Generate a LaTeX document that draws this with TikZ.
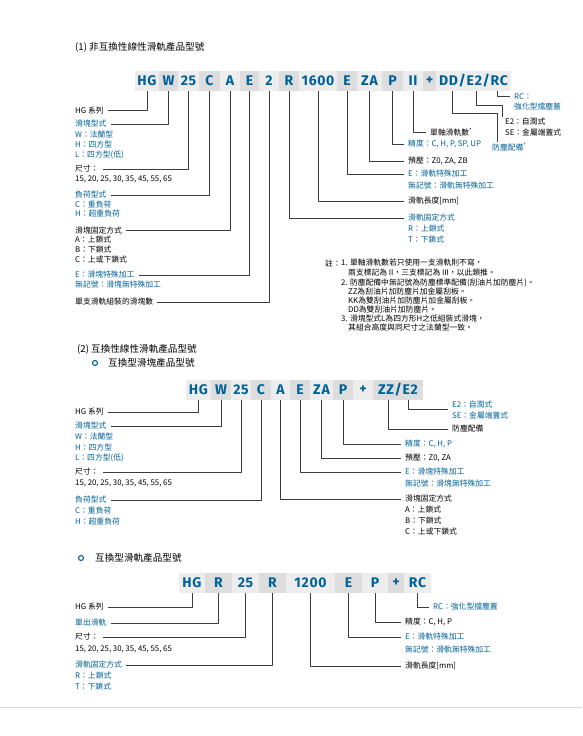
\documentclass[tikz,border=0pt]{standalone}
\usepackage{fontspec}
\setmainfont{Noto Sans CJK TC}
\newfontfamily\codefont{Fira Sans}[LetterSpace=5]
\definecolor{hiblue}{RGB}{0,98,152}
\definecolor{boxlt}{RGB}{237,237,237}
\definecolor{boxdk}{RGB}{221,221,221}
\definecolor{linegray}{RGB}{60,60,60}
\tikzset{
  cell/.style={minimum height=20pt, inner sep=0pt, text=hiblue,
    font=\codefont\bfseries\fontsize{14}{14}\selectfont},
  litecell/.style={cell, fill=boxlt},
  darkcell/.style={cell, fill=boxdk},
  lbl/.style={anchor=west, inner xsep=4pt, inner ysep=1pt,
    font=\fontsize{7.8}{8}\selectfont},
  lbb/.style={lbl, text=hiblue},
  head/.style={anchor=west, inner sep=0pt, font=\fontsize{9.6}{10}\selectfont},
  bullet/.style={circle, draw=hiblue, line width=1.1pt, minimum size=5pt, inner sep=0pt},
  wire/.style={draw=linegray, line width=0.9pt},
}
\begin{document}
\begin{tikzpicture}[x=1pt, y=-1pt, line join=round]
  \fill[white] (0,0) rectangle (582,736);
  \useasboundingbox (0,0) rectangle (582,736);

  % (1) non-interchangeable
  \node[head] (t1) at (75,47) {(1) 非互換性線性滑軌產品型號};

  \node[litecell, minimum width=24pt] (a1) at (147,81) {HG};
  \node[darkcell, minimum width=19pt] (a2) at (168.5,81) {W};
  \node[litecell, minimum width=21pt] (a3) at (188.5,81) {25};
  \node[darkcell, minimum width=21pt] (a4) at (209.5,81) {C};
  \node[litecell, minimum width=20pt] (a5) at (230,81) {A};
  \node[darkcell, minimum width=19pt] (a6) at (249.5,81) {E};
  \node[litecell, minimum width=20pt] (a7) at (269,81) {2};
  \node[darkcell, minimum width=20pt] (a8) at (289,81) {R};
  \node[litecell, minimum width=38pt] (a9) at (318,81) {1600};
  \node[darkcell, minimum width=20pt] (a10) at (347,81) {E};
  \node[litecell, minimum width=25pt] (a11) at (369.5,81) {ZA};
  \node[darkcell, minimum width=21pt] (a12) at (392.5,81) {P};
  \node[litecell, minimum width=20pt] (a13) at (413,81) {II};
  \node[darkcell, minimum width=13pt] (a14) at (429.5,81) {+};
  \node[litecell, minimum width=75pt] (a15) at (473.5,81) {DD/E2/RC};
  \coordinate (ddc) at (452,91);
  \coordinate (e2c) at (476,91);
  \coordinate (rcc) at (497,91);

  \node[lbl] (l1) at (71,110.5) {HG 系列};
  \node[lbb] (l2) at (71,124) {滑塊型式};
  \node[lbb] (l2a) at (71,134.5) {W：法蘭型};
  \node[lbb] (l2b) at (71,145) {H：四方型};
  \node[lbb] (l2c) at (71,155) {L：四方型(低)};
  \node[lbl] (l3) at (71,169) {尺寸：};
  \node[lbl] (l3a) at (71,179) {15, 20, 25, 30, 35, 45, 55, 65};
  \node[lbb] (l4) at (71,195) {負荷型式};
  \node[lbb] (l4a) at (71,204.5) {C：重負荷};
  \node[lbb] (l4b) at (71,214) {H：超重負荷};
  \node[lbl] (l5) at (71,230.5) {滑塊固定方式};
  \node[lbl] (l5a) at (71,240) {A：上鎖式};
  \node[lbl] (l5b) at (71,250) {B：下鎖式};
  \node[lbl] (l5c) at (71,260) {C：上或下鎖式};
  \node[lbb] (l6) at (71,275) {E：滑塊特殊加工};
  \node[lbb] (l6a) at (71,284.5) {無記號：滑塊無特殊加工};
  \node[lbl] (l7) at (71,302) {單支滑軌組裝的滑塊數};

  \node[lbb] (r1) at (510,96.5) {RC：};
  \node[lbb] (r1a) at (510,107) {強化型擋塵蓋};
  \node[lbl] (r2) at (501,122) {E2：自潤式};
  \node[lbl] (r2a) at (501,133) {SE：金屬端蓋式};
  \node[lbl] (r3) at (426,132) {單軸滑軌數\textsuperscript{*}};
  \node[lbb] (r4) at (488,147) {防塵配備\textsuperscript{*}};
  \node[lbb] (r5) at (404,144) {精度：C, H, P, SP, UP};
  \node[lbl] (r6) at (404,161) {預壓：Z0, ZA, ZB};
  \node[lbb] (r7) at (404,174) {E：滑軌特殊加工};
  \node[lbb] (r7a) at (404,185.5) {無記號：滑軌無特殊加工};
  \node[lbl] (r8) at (404,201) {滑軌長度[mm]};
  \node[lbb] (r9) at (404,218) {滑軌固定方式};
  \node[lbb] (r9a) at (404,229) {R：上鎖式};
  \node[lbb] (r9b) at (404,240) {T：下鎖式};
  \coordinate (e2k) at (502,105);
  \coordinate (e2e) at (502,117);
  \coordinate (ddk) at (497,113);

  \draw[wire] (a1.south) |- (l1.east);
  \draw[wire] (a2.south) |- (l2.east);
  \draw[wire] (a3.south) |- (l3.east);
  \draw[wire] (a4.south) |- (l4.east);
  \draw[wire] (a5.south) |- (l5.east);
  \draw[wire] (a6.south) |- (l6.east);
  \draw[wire] (a7.south) |- (l7.east);
  \draw[wire] (a8.south) |- (r9.west);
  \draw[wire] (a9.south) |- (r8.west);
  \draw[wire] (a10.south) |- (r7.west);
  \draw[wire] (a11.south) |- (r6.west);
  \draw[wire] (a12.south) |- (r5.west);
  \draw[wire] (a13.south) |- (r3.west);
  \draw[wire] (ddc) |- (ddk) -- (ddk |- r4.north);
  \draw[wire] (e2c) |- (e2k) -- (e2e);
  \draw[wire] (rcc) |- (r1.west);

  \node[lbl] (n0) at (321,263) {註：};
  \node[lbl] (n1) at (337,263) {1. 單軸滑軌數若只使用一支滑軌則不寫，};
  \node[lbl] (n1a) at (344,273) {兩支標記為 II，三支標記為 III，以此類推。};
  \node[lbl] (n2) at (337,282.5) {2. 防塵配備中無記號為防塵標準配備(刮油片加防塵片)。};
  \node[lbl] (n2a) at (344,292) {ZZ為刮油片加防塵片加金屬刮板。};
  \node[lbl] (n2b) at (344,300.5) {KK為雙刮油片加防塵片加金屬刮板。};
  \node[lbl] (n2c) at (344,309.5) {DD為雙刮油片加防塵片。};
  \node[lbl] (n3) at (337,319) {3. 滑塊型式L為四方形H之低組裝式滑塊，};
  \node[lbl] (n3a) at (344,328) {其組合高度與同尺寸之法蘭型一致。};

  % (2) interchangeable block
  \node[head] (t2) at (77,349) {(2) 互換性線性滑軌產品型號};
  \node[bullet] (o2) at (95,363) {};
  \node[head] (t2a) at (108,363) {互換型滑塊產品型號};

  \node[litecell, minimum width=25pt] (b1) at (198.5,389.5) {HG};
  \node[darkcell, minimum width=20pt] (b2) at (221,389.5) {W};
  \node[litecell, minimum width=20pt] (b3) at (241,389.5) {25};
  \node[darkcell, minimum width=20pt] (b4) at (261,389.5) {C};
  \node[litecell, minimum width=19pt] (b5) at (280.5,389.5) {A};
  \node[darkcell, minimum width=20pt] (b6) at (300,389.5) {E};
  \node[litecell, minimum width=23pt] (b7) at (321.5,389.5) {ZA};
  \node[darkcell, minimum width=20pt] (b8) at (343,389.5) {P};
  \node[litecell, minimum width=20pt] (b9) at (363,389.5) {+};
  \node[darkcell, minimum width=50pt] (b10) at (398,389.5) {ZZ/E2};
  \coordinate (zzc) at (388,399.5);
  \coordinate (e2d) at (408,399.5);

  \node[lbl] (m1) at (71,412) {HG 系列};
  \node[lbb] (m2) at (71,426) {滑塊型式};
  \node[lbb] (m2a) at (71,437) {W：法蘭型};
  \node[lbb] (m2b) at (71,447.5) {H：四方型};
  \node[lbb] (m2c) at (71,458) {L：四方型(低)};
  \node[lbl] (m3) at (71,472) {尺寸：};
  \node[lbl] (m3a) at (71,483) {15, 20, 25, 30, 35, 45, 55, 65};
  \node[lbb] (m4) at (71,500) {負荷型式};
  \node[lbb] (m4a) at (71,511) {C：重負荷};
  \node[lbb] (m4b) at (71,522) {H：超重負荷};

  \node[lbb] (s1) at (448,405) {E2：自潤式};
  \node[lbb] (s1a) at (448,415.5) {SE：金屬端蓋式};
  \node[lbl] (s2) at (448,429) {防塵配備};
  \node[lbb] (s3) at (401,444) {精度：C, H, P};
  \node[lbl] (s4) at (401,458) {預壓：Z0, ZA};
  \node[lbb] (s5) at (401,472) {E：滑塊特殊加工};
  \node[lbb] (s5a) at (401,484) {無記號：滑塊無特殊加工};
  \node[lbl] (s6) at (401,499) {滑塊固定方式};
  \node[lbl] (s6a) at (401,510) {A：上鎖式};
  \node[lbl] (s6b) at (401,521) {B：下鎖式};
  \node[lbl] (s6c) at (401,532) {C：上或下鎖式};

  \draw[wire] (b1.south) |- (m1.east);
  \draw[wire] (b2.south) |- (m2.east);
  \draw[wire] (b3.south) |- (m3.east);
  \draw[wire] (b4.south) |- (m4.east);
  \draw[wire] (b5.south) |- (s6.west);
  \draw[wire] (b6.south) |- (s5.west);
  \draw[wire] (b7.south) |- (s4.west);
  \draw[wire] (b8.south) |- (s3.west);
  \draw[wire] (zzc) |- (s2.west);
  \draw[wire] (e2d) |- (s1.south west);

  % interchangeable rail
  \node[bullet] (o3) at (81,558) {};
  \node[head] (t3) at (95,558) {互換型滑軌產品型號};

  \node[litecell, minimum width=26pt] (c1) at (192,582.5) {HG};
  \node[darkcell, minimum width=27pt] (c2) at (218.5,582.5) {R};
  \node[litecell, minimum width=27pt] (c3) at (245.5,582.5) {25};
  \node[darkcell, minimum width=27pt] (c4) at (272.5,582.5) {R};
  \node[litecell, minimum width=49pt] (c5) at (310.5,582.5) {1200};
  \node[darkcell, minimum width=27pt] (c6) at (348.5,582.5) {E};
  \node[litecell, minimum width=26pt] (c7) at (375,582.5) {P};
  \node[darkcell, minimum width=16pt] (c8) at (396,582.5) {+};
  \node[litecell, minimum width=27pt] (c9) at (417.5,582.5) {RC};

  \node[lbl] (k1) at (71,607) {HG 系列};
  \node[lbb] (k2) at (71,623) {單出滑軌};
  \node[lbl] (k3) at (71,637) {尺寸：};
  \node[lbl] (k3a) at (71,649) {15, 20, 25, 30, 35, 45, 55, 65};
  \node[lbb] (k4) at (71,665) {滑軌固定方式};
  \node[lbb] (k4a) at (71,676) {R：上鎖式};
  \node[lbb] (k4b) at (71,687) {T：下鎖式};

  \node[lbb] (q1) at (429,607) {RC：強化型擋塵蓋};
  \node[lbl] (q2) at (401,622) {精度：C, H, P};
  \node[lbb] (q3) at (401,637) {E：滑軌特殊加工};
  \node[lbb] (q3a) at (401,650) {無記號：滑軌無特殊加工};
  \node[lbl] (q4) at (401,666) {滑軌長度[mm]};

  \draw[wire] (c1.south) |- (k1.east);
  \draw[wire] (c2.south) |- (k2.east);
  \draw[wire] (c3.south) |- (k3.east);
  \draw[wire] (c4.south) |- (k4.east);
  \draw[wire] (c5.south) |- (q4.west);
  \draw[wire] (c6.south) |- (q3.west);
  \draw[wire] (c7.south) |- (q2.west);
  \draw[wire] (c9.south) |- (q1.west);

  \draw[black!15, line width=0.6pt] (0,707) -- (582,707);
\end{tikzpicture}
\end{document}
